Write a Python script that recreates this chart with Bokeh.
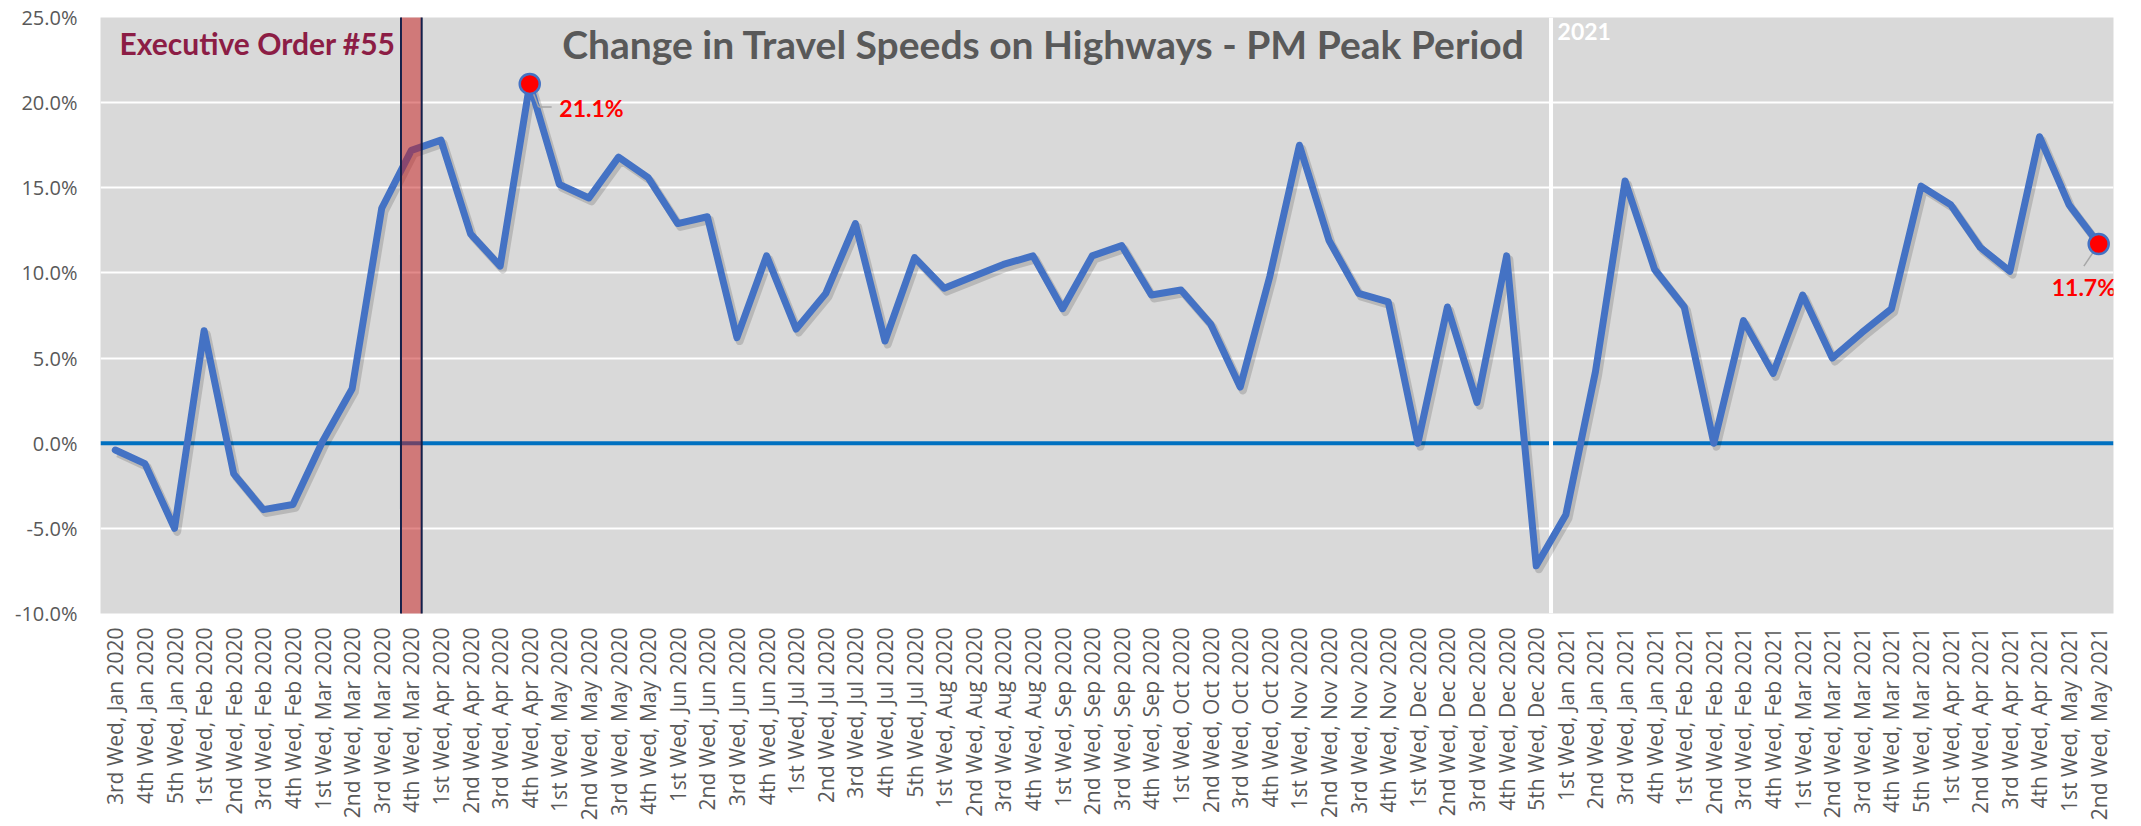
import math
from bokeh.plotting import figure
from bokeh.models import (FactorRange, Range1d, Span, Label, ColumnDataSource,
                          FixedTicker, PrintfTickFormatter)
from bokeh.transform import dodge
from bokeh.core.properties import value
from bokeh.embed import file_html
from bokeh.resources import INLINE

# ---------------- data ----------------
weeks = [
    "3rd Wed, Jan 2020", "4th Wed, Jan 2020", "5th Wed, Jan 2020",
    "1st Wed, Feb 2020", "2nd Wed, Feb 2020", "3rd Wed, Feb 2020", "4th Wed, Feb 2020",
    "1st Wed, Mar 2020", "2nd Wed, Mar 2020", "3rd Wed, Mar 2020", "4th Wed, Mar 2020",
    "1st Wed, Apr 2020", "2nd Wed, Apr 2020", "3rd Wed, Apr 2020", "4th Wed, Apr 2020",
    "1st Wed, May 2020", "2nd Wed, May 2020", "3rd Wed, May 2020", "4th Wed, May 2020",
    "1st Wed, Jun 2020", "2nd Wed, Jun 2020", "3rd Wed, Jun 2020", "4th Wed, Jun 2020",
    "1st Wed, Jul 2020", "2nd Wed, Jul 2020", "3rd Wed, Jul 2020", "4th Wed, Jul 2020",
    "5th Wed, Jul 2020",
    "1st Wed, Aug 2020", "2nd Wed, Aug 2020", "3rd Wed, Aug 2020", "4th Wed, Aug 2020",
    "1st Wed, Sep 2020", "2nd Wed, Sep 2020", "3rd Wed, Sep 2020", "4th Wed, Sep 2020",
    "1st Wed, Oct 2020", "2nd Wed, Oct 2020", "3rd Wed, Oct 2020", "4th Wed, Oct 2020",
    "1st Wed, Nov 2020", "2nd Wed, Nov 2020", "3rd Wed, Nov 2020", "4th Wed, Nov 2020",
    "1st Wed, Dec 2020", "2nd Wed, Dec 2020", "3rd Wed, Dec 2020", "4th Wed, Dec 2020",
    "5th Wed, Dec 2020",
    "1st Wed, Jan 2021", "2nd Wed, Jan 2021", "3rd Wed, Jan 2021", "4th Wed, Jan 2021",
    "1st Wed, Feb 2021", "2nd Wed, Feb 2021", "3rd Wed, Feb 2021", "4th Wed, Feb 2021",
    "1st Wed, Mar 2021", "2nd Wed, Mar 2021", "3rd Wed, Mar 2021", "4th Wed, Mar 2021",
    "5th Wed, Mar 2021",
    "1st Wed, Apr 2021", "2nd Wed, Apr 2021", "3rd Wed, Apr 2021", "4th Wed, Apr 2021",
    "1st Wed, May 2021", "2nd Wed, May 2021",
]

change_pct = [
    -0.4, -1.2, -5.0,
    6.6, -1.8, -3.9, -3.6,
    0.1, 3.2, 13.8, 17.2,
    17.8, 12.3, 10.4, 21.1,
    15.2, 14.4, 16.8, 15.6,
    12.9, 13.3, 6.2, 11.0,
    6.7, 8.8, 12.9, 6.0,
    10.9,
    9.1, 9.8, 10.5, 11.0,
    7.9, 11.0, 11.6, 8.7,
    9.0, 7.0, 3.3, 9.8,
    17.5, 11.9, 8.8, 8.3,
    0.0, 8.0, 2.4, 11.0,
    -7.2,
    -4.2, 4.2, 15.4, 10.2,
    8.0, 0.0, 7.2, 4.1,
    8.7, 5.0, 6.5, 7.9,
    15.1,
    14.0, 11.5, 10.1, 18.0,
    14.0, 11.7,
]

y_ticks = [-10, -5, 0, 5, 10, 15, 20, 25]

title_text = "Change in Travel Speeds on Highways - PM Peak Period"
eo_text = "Executive Order #55"
eo_week = "4th Wed, Mar 2020"
year_text = "2021"
year_start_week = "1st Wed, Jan 2021"
peak_week = "4th Wed, Apr 2020"
last_week = "2nd Wed, May 2021"

# ---------------- styles ----------------
GRAY_TXT = "#595959"
LINE_BLUE = "#4472C4"
BOLD_FONT = value("Lato")

p = figure(
    width=2141, height=826,
    x_range=FactorRange(*weeks),
    y_range=Range1d(-10, 25),
    output_backend="svg", toolbar_location=None,
    min_border_left=100, min_border_right=28,
    min_border_top=17, min_border_bottom=213,
)
p.background_fill_color = "#D9D9D9"
p.border_fill_color = "white"
p.outline_line_color = None

p.xgrid.grid_line_color = None
p.ygrid.grid_line_color = "white"
p.ygrid.grid_line_width = 2

p.yaxis.ticker = FixedTicker(ticks=y_ticks)
p.yaxis.formatter = PrintfTickFormatter(format="%.1f%%")
for ax in (p.xaxis[0], p.yaxis[0]):
    ax.axis_line_color = None
    ax.major_tick_line_color = None
    ax.minor_tick_line_color = None
    ax.major_tick_out = 0
    ax.major_tick_in = 0
    ax.major_label_text_font = "Open Sans"
    ax.major_label_text_color = GRAY_TXT
p.yaxis.major_label_text_font_size = "20px"
p.xaxis.major_label_text_font_size = "21px"
p.yaxis.major_label_standoff = 23
p.xaxis.major_label_orientation = math.pi / 2
p.xaxis.major_label_standoff = 14

# zero line and year divider
p.add_layout(Span(location=0, dimension="width", line_color="#0070C0",
                  line_width=4, level="underlay"))
p.add_layout(Span(location=weeks.index(year_start_week), dimension="height",
                  line_color="white", line_width=4, level="underlay"))

src = ColumnDataSource(dict(week=weeks, change=change_pct))

# soft shadow + main line
p.line(x=dodge("week", 0.09, range=p.x_range), y=dodge("change", -0.2),
       source=src, line_color="black", line_alpha=0.15, line_width=8,
       line_join="round")
p.line(x="week", y="change", source=src, line_color=LINE_BLUE,
       line_width=7, line_join="round", line_cap="round")

# Executive order bar
p.rect(x=[eo_week], y=[7.5], width=0.7, height=40,
       fill_color="#C82020", fill_alpha=0.52,
       line_color="#14204A", line_width=2)

# highlighted points
i_peak = weeks.index(peak_week)
i_last = weeks.index(last_week)
peak_src = ColumnDataSource(dict(x=[peak_week], y=[change_pct[i_peak]],
                                 t=[f"{change_pct[i_peak]:.1f}%"]))
last_src = ColumnDataSource(dict(x=[last_week], y=[change_pct[i_last]],
                                 t=[f"{change_pct[i_last]:.1f}%"]))

# leader lines
p.segment(x0="x", y0="y", x1=dodge("x", 0.30, range=p.x_range),
          y1=dodge("y", -1.35), source=peak_src, line_color="#A6A6A6", line_width=1.5)
p.segment(x0=dodge("x", 0.30, range=p.x_range), y0=dodge("y", -1.35),
          x1=dodge("x", 0.74, range=p.x_range), y1=dodge("y", -1.35),
          source=peak_src, line_color="#A6A6A6", line_width=1.5)
p.segment(x0="x", y0="y", x1=dodge("x", -0.5, range=p.x_range),
          y1=dodge("y", -1.3), source=last_src, line_color="#A6A6A6", line_width=1.5)

for s in (peak_src, last_src):
    p.scatter(x="x", y="y", source=s, size=20, fill_color="#FF0000",
              line_color=LINE_BLUE, line_width=2.5)

p.text(x=dodge("x", 1.0, range=p.x_range), y=dodge("y", -1.41), text="t",
       source=peak_src, text_color="#FF0000", text_font=BOLD_FONT,
       text_font_style="bold", text_font_size="23px",
       text_align="left", text_baseline="middle")
p.text(x=dodge("x", -0.5, range=p.x_range), y=dodge("y", -2.52), text="t",
       source=last_src, text_color="#FF0000", text_font=BOLD_FONT,
       text_font_style="bold", text_font_size="23px",
       text_align="center", text_baseline="middle")

# in-plot texts
p.add_layout(Label(x=31.86, y=23.45, text=title_text, text_font="Lato",
                   text_font_style="bold", text_font_size="39px",
                   text_color=GRAY_TXT, text_align="center", text_baseline="middle"))
p.add_layout(Label(x=9.97, y=23.53, text=eo_text, text_font="Lato",
                   text_font_style="bold", text_font_size="30px",
                   text_color="#8C1D45", text_align="right", text_baseline="middle"))
p.add_layout(Label(x=weeks.index(year_start_week) + 0.22, y=24.2, text=year_text,
                   text_font="Lato", text_font_style="bold", text_font_size="23px",
                   text_color="white", text_align="left", text_baseline="middle"))

open("out.html", "w").write(file_html(p, INLINE))
